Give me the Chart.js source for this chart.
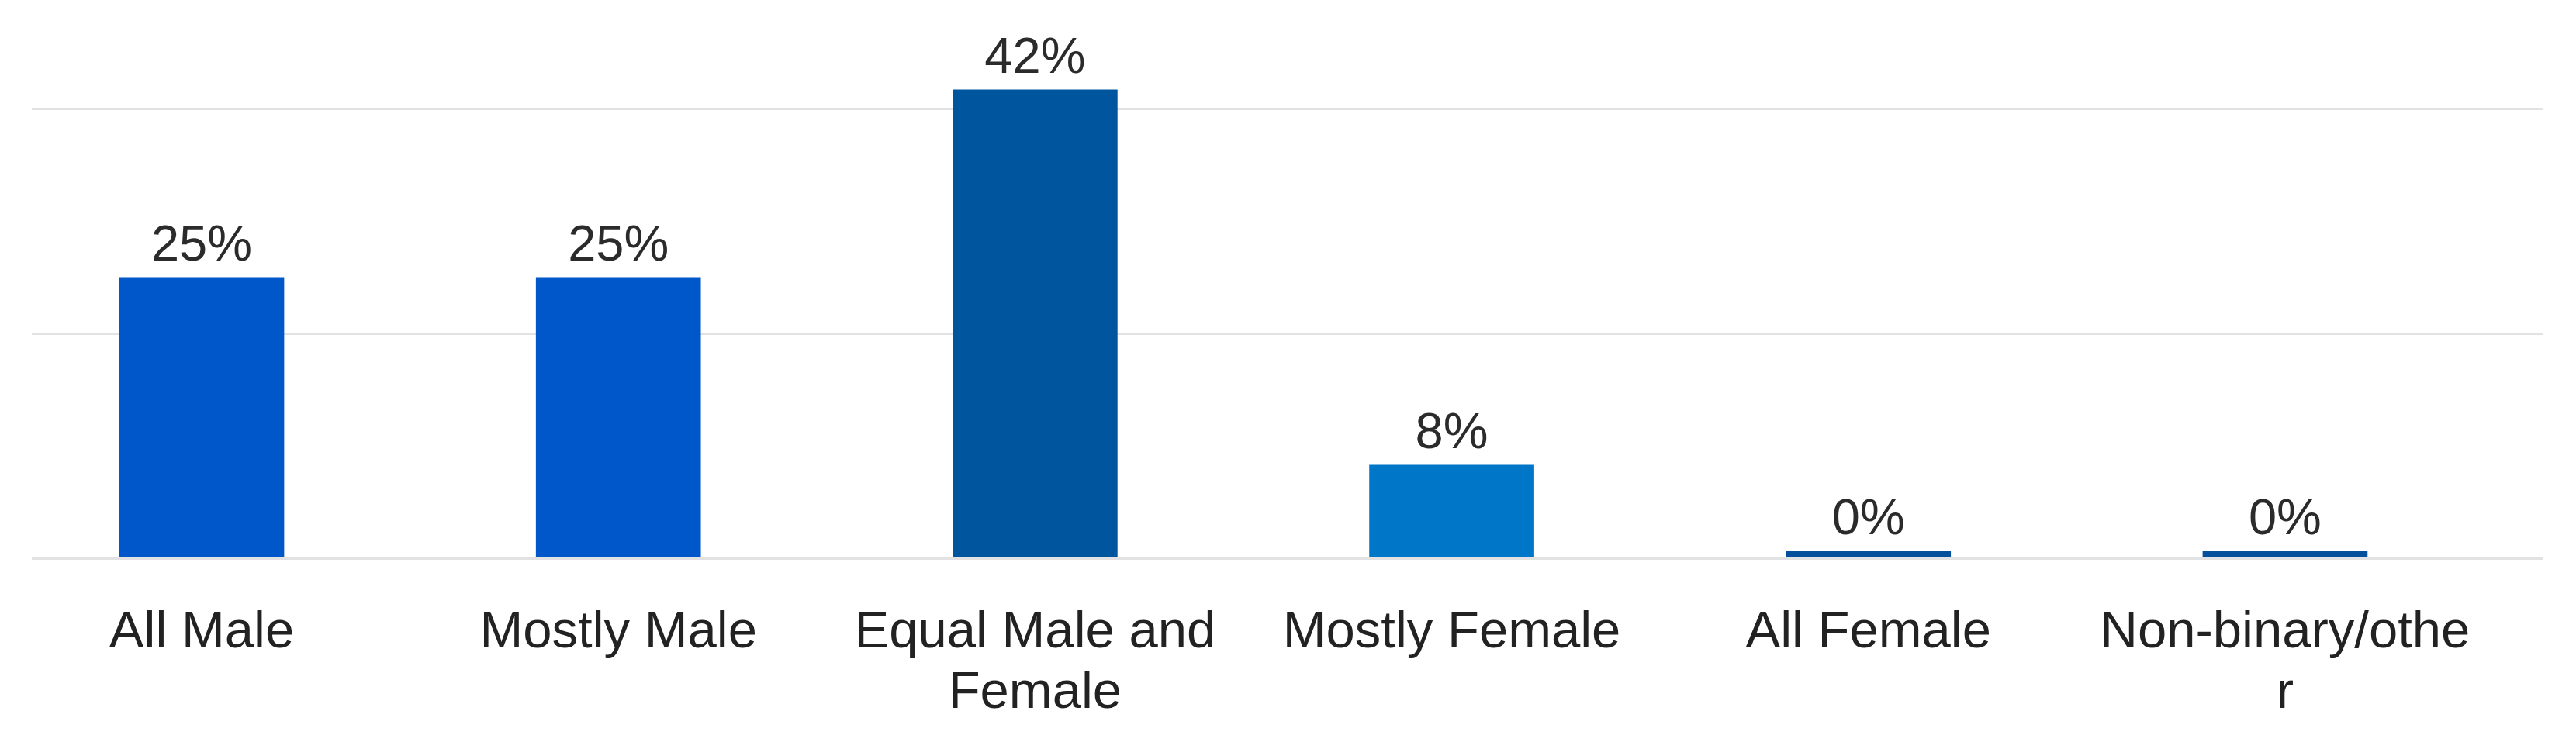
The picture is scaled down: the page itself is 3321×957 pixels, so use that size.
<!DOCTYPE html>
<html>
<head>
<meta charset="utf-8">
<script src="https://cdn.jsdelivr.net/npm/chart.js@4"></script>
<style>
  html, body { margin: 0; padding: 0; background: #fff; }
  #wrap { width: 3321px; height: 957px; }
</style>
</head>
<body>
<div id="wrap"><canvas id="chart" width="3321" height="957"></canvas></div>
<script>
// survey answers, share of respondents in %
const categories = ['All Male', 'Mostly Male', ['Equal Male and', 'Female'], 'Mostly Female', 'All Female', ['Non-binary/othe', 'r']]
const shares = [25, 25, 41.7, 8.3, 0, 0]
const shareLabels = ['25%', '25%', '42%', '8%', '0%', '0%']
const barColors = ['#0057c9', '#0057c9', '#00559f', '#0076c9', '#05509c', '#05509c']

document.addEventListener('DOMContentLoaded', function () {
    const fontFamily = '"Liberation Sans", Arial, sans-serif'

    // percentage text above each bar
    const valueLabels = {
        id: 'valueLabels',
        afterDatasetsDraw(chart) {
            const ctx = chart.ctx
            const meta = chart.getDatasetMeta(0)
            ctx.save()
            ctx.font = '65px ' + fontFamily
            ctx.fillStyle = '#2b2b2b'
            ctx.textAlign = 'center'
            ctx.textBaseline = 'alphabetic'
            meta.data.forEach((bar, i) => {
                ctx.fillText(shareLabels[i], bar.x, bar.y - 22)
            })
            ctx.restore()
        }
    }

    const ctx = document.getElementById('chart').getContext('2d')
    new Chart(ctx, {
        type: 'bar',
        data: {
            datasets: [{
                data: shares.map((v, i) => ({ x: i, y: v })),
                backgroundColor: barColors,
                barThickness: 212,
                minBarLength: 9
            }]
        },
        options: {
            responsive: false,
            animation: false,
            layout: { padding: { top: 68, left: 41, right: 42, bottom: -26 } },
            plugins: {
                legend: { display: false },
                tooltip: { enabled: false }
            },
            scales: {
                x: {
                    type: 'linear',
                    min: -0.4077,
                    max: 5.62,
                    offset: false,
                    grid: { display: false },
                    border: { display: false },
                    ticks: {
                        stepSize: 1,
                        includeBounds: false,
                        autoSkip: false,
                        maxRotation: 0,
                        minRotation: 0,
                        padding: 49,
                        color: '#222',
                        font: { family: fontFamily, size: 67, lineHeight: 1.17 },
                        callback: v => Number.isInteger(v) ? categories[v] : ''
                    }
                },
                y: {
                    min: 0,
                    max: 45,
                    grid: {
                        drawTicks: false,
                        lineWidth: 3,
                        color: c => c.tick.value % 20 === 0 ? '#e2e2e2' : 'rgba(0,0,0,0)'
                    },
                    border: { display: false },
                    ticks: { display: false, stepSize: 20 }
                }
            }
        },
        plugins: [valueLabels]
    })
})
</script>
</body>
</html>
